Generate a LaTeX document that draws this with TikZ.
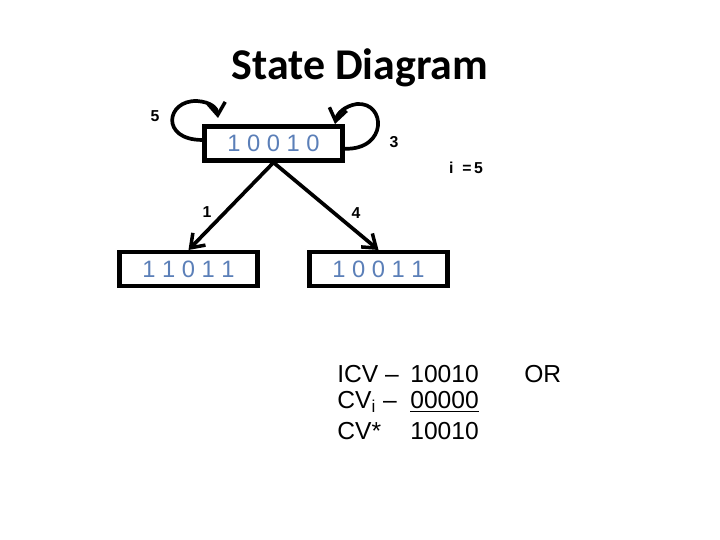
\documentclass[tikz,border=0pt]{standalone}
\usepackage{fontspec}
\setmainfont{Liberation Sans}
\newfontfamily\titlefont{Carlito}
\usetikzlibrary{arrows.meta}
\definecolor{digitblue}{HTML}{5B7FB8}
\tikzset{
  statebox/.style={draw,line width=2.3pt,minimum width=2.76cm,minimum height=0.68cm,
    inner sep=0pt,text=digitblue,font=\fontsize{13.5}{16}\selectfont},
  edge/.style={line width=2.1pt,-{Straight Barb[length=7pt,width=10pt,line width=2pt]}},
  weight/.style={font=\fontsize{9}{11}\selectfont\bfseries},
  cvtext/.style={anchor=west,font=\fontsize{14}{17}\selectfont,inner sep=0pt}
}
\begin{document}
\begin{tikzpicture}[x=0.02cm,y=-0.02cm]
\useasboundingbox (0,0) rectangle (720,540);
% title
\node[font=\titlefont\fontsize{25}{30}\selectfont\bfseries] (title) at (360,68) {State Diagram};
% states
\node[statebox] (top) at (273.5,143.5) {1 0 0 1 0};
\node[statebox] (left) at (188.5,269) {1 1 0 1 1};
\node[statebox] (right) at (378.5,269) {1 0 0 1 1};
% self loops
\coordinate (lend) at (218,118);
\coordinate (rend) at (335,124);
\draw[edge] ([yshift=2pt]top.west) .. controls (160,140) and (166,100) .. (197,101)
  .. controls (211,102) and (217,108) .. (lend);
\draw[edge] ([yshift=-3pt]top.east) .. controls (388,150) and (386,102) .. (357,104)
  .. controls (344,106) and (337,114) .. (rend);
\node[weight] (w5) at (155,116) {5};
\node[weight] (w3) at (394,142) {3};
\node[weight] (iv) at (466,168) {i\ \ =\,5};
% transitions
\draw[edge] (top.south) -- (left.north);
\draw[edge] (top.south) -- (right.north);
\node[weight] (w1) at (207,212) {1};
\node[weight] (w4) at (356,213) {4};
% check values
\node[cvtext] (icv) at (337,374) {ICV --};
\node[cvtext] (cvi) at (337,402) {CV\textsubscript{i} --};
\node[cvtext] (cvs) at (337,431) {CV*};
\node[cvtext] (icvv) at (410,374) {10010};
\node[cvtext] (cviv) at (410,402) {\underline{00000}};
\node[cvtext] (cvsv) at (410,431) {10010};
\node[cvtext] (or) at (524,374) {OR};
\end{tikzpicture}
\end{document}
